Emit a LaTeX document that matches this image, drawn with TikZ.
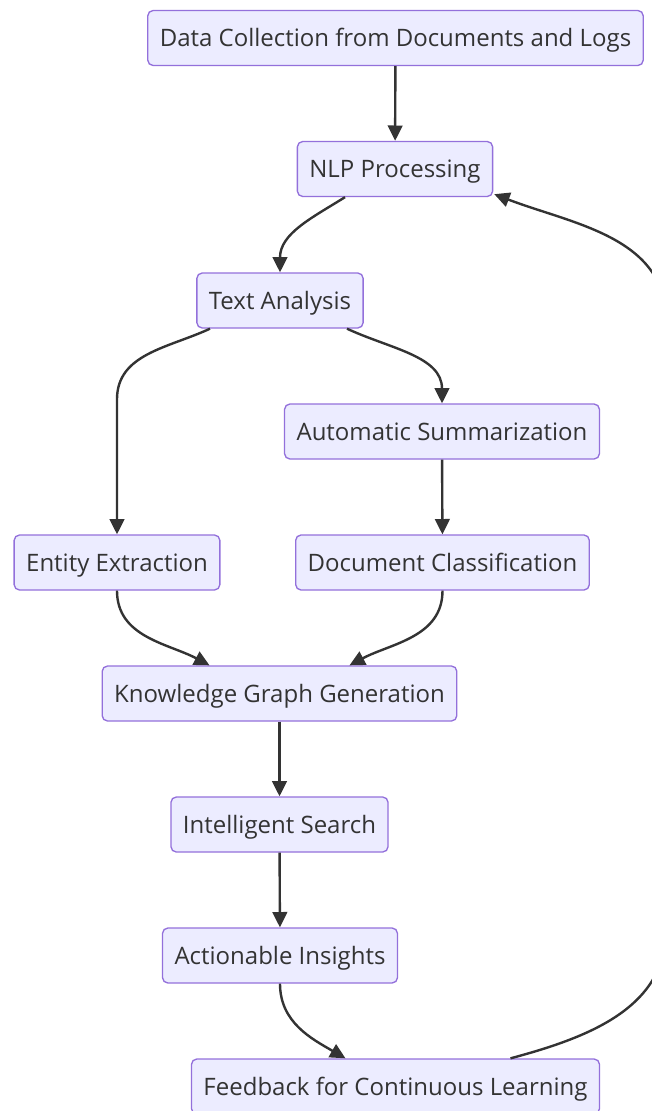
\documentclass[tikz,border=0pt]{standalone}
\usepackage{fontspec}
\setmainfont{Open Sans}
\usetikzlibrary{arrows.meta,calc}

\definecolor{boxfill}{HTML}{ECECFF}
\definecolor{boxline}{HTML}{9370DB}
\definecolor{ink}{HTML}{333333}

\tikzset{
  stage/.style={draw=boxline, fill=boxfill, line width=1pt, rounded corners=4pt,
    text=ink, font=\fontsize{18}{22}\selectfont, minimum height=41.25pt,
    text height=17pt, text depth=4.2pt,
    inner xsep=9pt, inner ysep=0pt},
  flow/.style={draw=ink, line width=1.8pt,
    -{Triangle[length=11.5pt,width=11pt]}}
}

\begin{document}
\begin{tikzpicture}[x=0.75pt,y=-0.75pt]
\useasboundingbox (0,0) rectangle (651,1111);

\node[stage] (collect) at (395.5,38) {Data Collection from Documents and Logs};
\node[stage] (nlp) at (395,169) {NLP Processing};
\node[stage] (analysis) at (280,300.5) {Text Analysis};
\node[stage] (summary) at (442,431.5) {Automatic Summarization};
\node[stage] (entity) at (117,562.5) {Entity Extraction};
\node[stage] (classify) at (442.5,562.5) {Document Classification};
\node[stage] (graph) at (279.5,693.5) {Knowledge Graph Generation};
\node[stage] (search) at (279.5,824.5) {Intelligent Search};
\node[stage] (insights) at (280,955.5) {Actionable Insights};
\node[stage] (feedback) at (395.5,1086.5) {Feedback for Continuous Learning};

% loop back on the right
\coordinate (loopbot) at (666,930);
\coordinate (looptop) at (666,320);

\draw[flow] (collect) -- (nlp);
\draw[flow] ($(nlp.south)+(-50,0)$) to[out=-148,in=90] (analysis.north);
\draw[flow] ($(analysis.south)+(-70,0)$) to[out=-155,in=90] ($(entity.north)+(0,-135)$) -- (entity.north);
\draw[flow] ($(analysis.south)+(67,0)$) to[out=-25,in=90] (summary.north);
\draw[flow] (summary) -- (classify);
\draw[flow] (entity.south) to[out=-90,in=152] ($(graph.north)+(-70,0)$);
\draw[flow] (classify.south) to[out=-90,in=28] ($(graph.north)+(70,0)$);
\draw[flow] (graph) -- (search);
\draw[flow] (search) -- (insights);
\draw[flow] (insights.south) to[out=-90,in=150] ($(feedback.north)+(-50,0)$);
\draw[flow] ($(feedback.north)+(115,0)$) to[out=15,in=-90] (loopbot) -- (looptop)
  to[out=90,in=-21] ($(nlp.south east)+(1,-3)$);

\end{tikzpicture}
\end{document}
